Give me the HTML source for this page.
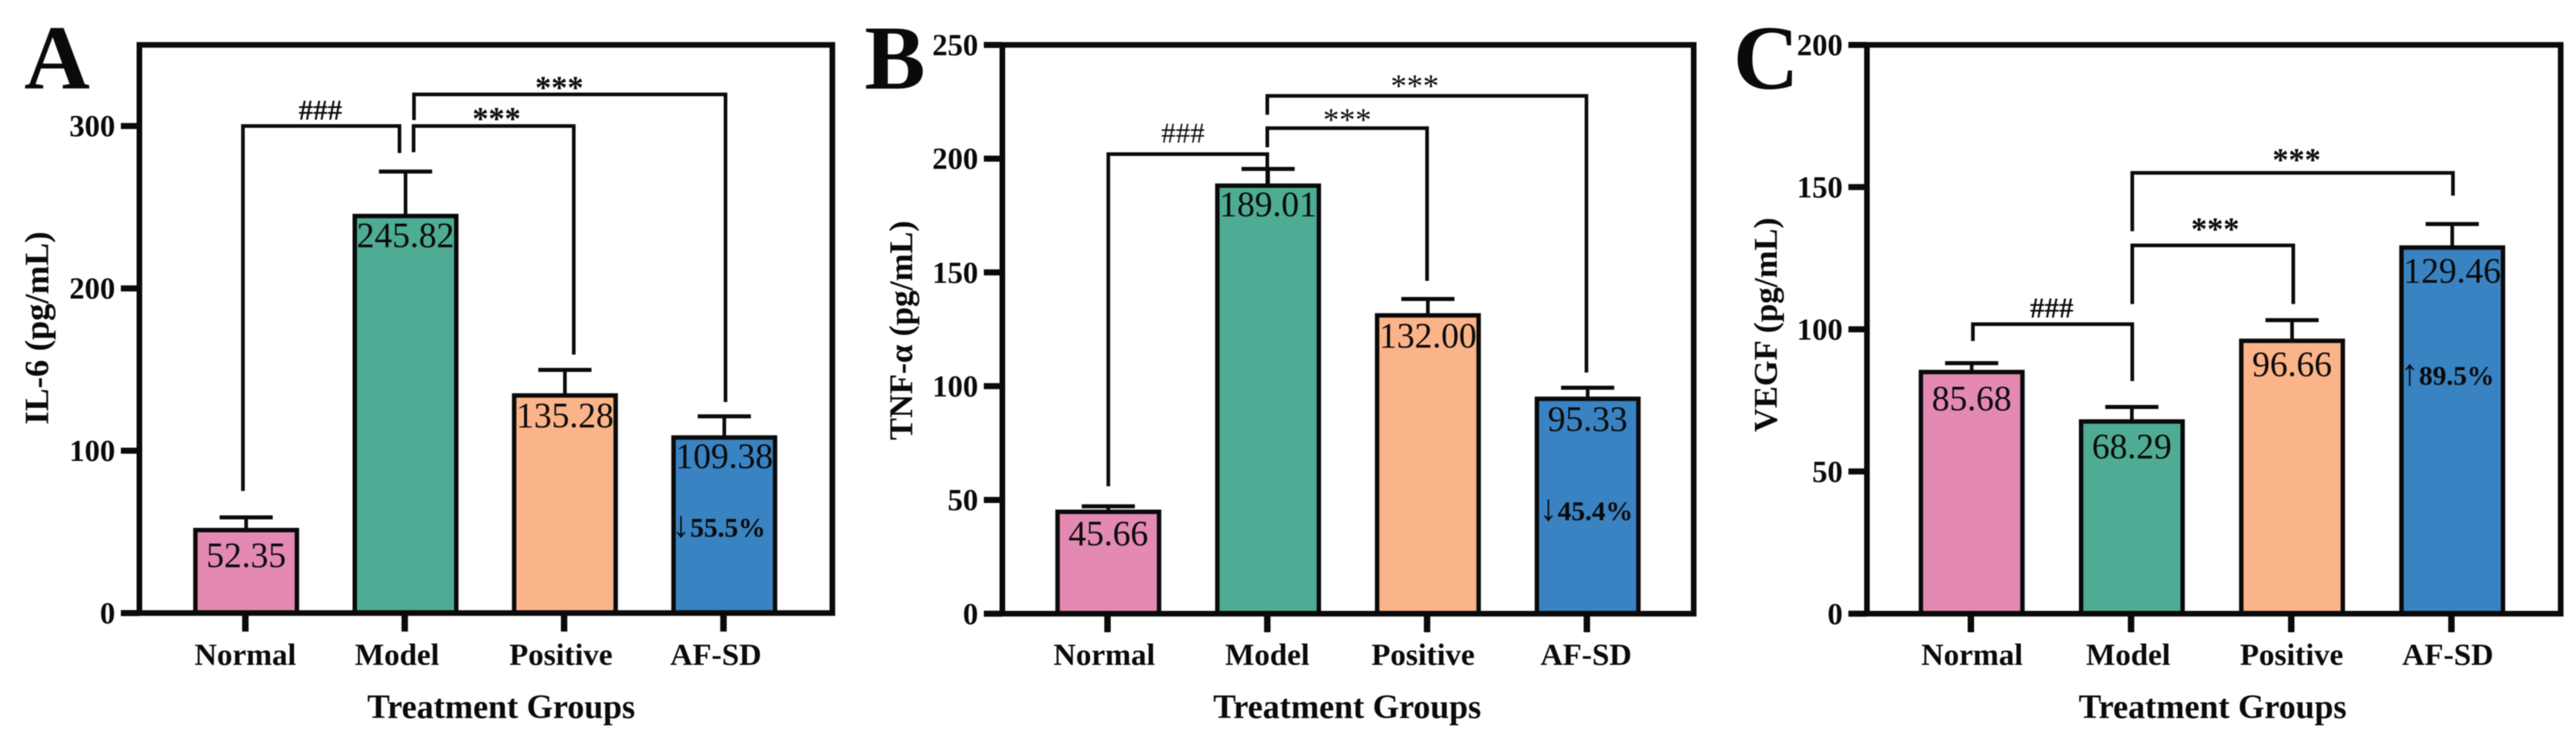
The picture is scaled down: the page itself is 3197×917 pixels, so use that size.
<!DOCTYPE html>
<html lang="en">
<head>
<meta charset="utf-8">
<title>IL-6, TNF-α and VEGF by treatment group</title>
<style>
html,body{margin:0;padding:0;background:#fff;width:3197px;height:917px;overflow:hidden}
svg{display:block;filter:blur(.6px)}
text{font-family:"Liberation Serif","DejaVu Serif",serif;fill:#0a0a0a}
</style>
</head>
<body>
<svg id="figure" xmlns="http://www.w3.org/2000/svg" width="3197" height="917" viewBox="0 0 3197 917"></svg>
<script>
const categories = ['Normal', 'Model', 'Positive', 'AF-SD'];
const barColors = ['#E48AB2', '#4FAC94', '#FBB48A', '#3983C2'];

const valuesA = [52.35, 245.82, 135.28, 109.38];
const errorTopsA = [58.9, 272, 149.8, 121.2];
const yTicksA = [0, 100, 200, 300];
const bracketFromA = [0, 1, 1];
const bracketToA = [1, 2, 3];
const bracketLevelA = [300, 300, 319.5];
const bracketFromEndA = [75.2, 283.9, 303.7];
const bracketToEndA = [283.4, 159.2, 130];
const bracketLabelA = ['###', '***', '***'];
const changeArrowA = '↓';
const changeLabelA = '55.5%';
const changeLevelA = 47;

const valuesB = [45.66, 189.01, 132.00, 95.33];
const errorTopsB = [47.2, 195.5, 138.3, 99.3];
const yTicksB = [0, 50, 100, 150, 200, 250];
const bracketFromB = [0, 1, 1];
const bracketToB = [1, 2, 3];
const bracketLevelB = [202, 213.4, 227.6];
const bracketFromEndB = [56, 205, 219.3];
const bracketToEndB = [189, 146.3, 106];
const bracketLabelB = ['###', '***', '***'];
const changeArrowB = '↓';
const changeLabelB = '45.4%';
const changeLevelB = 41;

const valuesC = [85.68, 68.29, 96.66, 129.46];
const errorTopsC = [88.1, 72.7, 103.2, 137];
const yTicksC = [0, 50, 100, 150, 200];
const bracketFromC = [0, 1, 1];
const bracketToC = [1, 2, 3];
const bracketLevelC = [101.8, 129.5, 155];
const bracketFromEndC = [95.9, 108.9, 134.5];
const bracketToEndC = [81.8, 108.9, 147];
const bracketLabelC = ['###', '***', '***'];
const changeArrowC = '↑';
const changeLabelC = '89.5%';
const changeLevelC = 80.5;

const svg = document.getElementById('figure');
const NS = 'http://www.w3.org/2000/svg';

function mk(tag, attrs, parent, content) {
  const n = document.createElementNS(NS, tag);
  for (const k in attrs) n.setAttribute(k, attrs[k]);
  if (content !== undefined) n.textContent = content;
  parent.appendChild(n);
  return n;
}

function drawPanel(p) {
  const yScale = v => p.y0 - (v / p.yMax) * (p.y0 - p.yTop);
  const xScale = i => p.x1 + i * p.step;

  const g = mk('g', {}, svg);
  
  

  const letter = mk('text', {x: p.letterX, y: 110, 'font-size': 113, 'font-weight': 'bold'}, g, p.letter);
  
  

  // bars: outline sits inside the value height
  p.values.forEach((v, i) => {
    const top = yScale(v) + 2.5;
    const bar = mk('rect', {
      x: xScale(i) - 63, y: top, width: 126, height: p.y0 - top,
      fill: barColors[i], stroke: '#0a0a0a', 'stroke-width': 5.5
    }, g);
    
    
  });

  // error bars
  p.errorTops.forEach((e, i) => {
    const cx = xScale(i);
    const stem = mk('line', {x1: cx, x2: cx, y1: yScale(p.values[i]), y2: yScale(e), stroke: '#0a0a0a', 'stroke-width': 4.5}, g);
    
    
    const cap = mk('line', {x1: cx - 33, x2: cx + 33, y1: yScale(e), y2: yScale(e), stroke: '#0a0a0a', 'stroke-width': 5}, g);
    
    
  });

  // printed values inside bars
  p.values.forEach((v, i) => {
    const t = mk('text', {x: xScale(i), y: yScale(v) + 46 + p.valueDy[i], 'font-size': 44, 'text-anchor': 'middle'}, g, v.toFixed(2));
    
    
  });

  const change = mk('text', {
    x: xScale(3) + p.changeDx, y: yScale(p.changeLevel),
    'font-size': 34, 'font-weight': 'bold', 'text-anchor': 'middle'
  }, g);
  
  
  mk('tspan', {'font-size': 46, 'font-weight': 'normal'}, change, p.changeArrow);
  mk('tspan', {}, change, p.changeLabel);

  // frame
  const frame = mk('rect', {
    x: p.frameL, y: p.yTop, width: p.frameR - p.frameL, height: p.y0 - p.yTop,
    fill: 'none', stroke: '#0a0a0a', 'stroke-width': 7
  }, g);
  
  

  // y axis ticks and labels
  p.yTicks.forEach(tv => {
    const ty = yScale(tv);
    const tick = mk('line', {x1: p.frameL - 23, x2: p.frameL, y1: ty, y2: ty, stroke: '#0a0a0a', 'stroke-width': 7.5}, g);
    
    
    const lab = mk('text', {x: p.frameL - 30, y: ty + 12.8, 'font-size': 38, 'font-weight': 'bold', 'text-anchor': 'end'}, g, String(tv));
    
    
  });

  // x axis ticks and labels
  categories.forEach((c, i) => {
    const tx = xScale(i) - 1;
    const tick = mk('line', {x1: tx, x2: tx, y1: p.y0, y2: p.y0 + 23, stroke: '#0a0a0a', 'stroke-width': 8}, g);
    
    
    const lab = mk('text', {x: xScale(i) + p.catDx[i], y: 825, 'font-size': 38.5, 'font-weight': 'bold', 'text-anchor': 'middle'}, g, c);
    
    
  });

  const xTitle = mk('text', {x: p.xTitleX, y: 891, 'font-size': 42, 'font-weight': 'bold', 'text-anchor': 'middle'}, g, 'Treatment Groups');
  
  

  const yTitle = mk('text', {
    x: 0, y: 0, 'font-size': p.yTitleSize, 'font-weight': 'bold', 'text-anchor': 'middle',
    transform: 'translate(' + p.yTitleX + ' ' + p.yTitleY + ') rotate(-90)'
  }, g, p.yTitle);
  
  

  // significance brackets
  p.bracketLevel.forEach((lv, i) => {
    const xa = xScale(p.bracketFrom[i]) + p.nudgeFrom[i];
    const xb = xScale(p.bracketTo[i]) + p.nudgeTo[i];
    const yl = yScale(lv);
    const d = 'M' + xa + ' ' + yScale(p.bracketFromEnd[i]) + 'V' + yl + 'H' + xb + 'V' + yScale(p.bracketToEnd[i]);
    const br = mk('path', {d: d, fill: 'none', stroke: '#0a0a0a', 'stroke-width': 4.5}, g);
    
    
    const isHash = p.bracketLabel[i] === '###';
    const lab = mk('text', {
      x: (xa + xb) / 2 + p.labelDx[i], y: yl + p.labelDy[i],
      'font-size': isHash ? 36 : 40, 'font-weight': p.sigWeight, 'text-anchor': 'middle'
    }, g, p.bracketLabel[i]);
    lab.setAttribute('fill', '#222');
    
    
  });
}

drawPanel({
  id: 'a', letter: 'A', letterX: 30,
  values: valuesA, errorTops: errorTopsA, yTicks: yTicksA, yMax: 350,
  y0: 760.7, yTop: 55.7, frameL: 173, frameR: 1033, x1: 305.5, step: 197.8,
  valueDy: [2, -5, -4, -6],
  bracketFrom: bracketFromA, bracketTo: bracketToA, bracketLevel: bracketLevelA,
  bracketFromEnd: bracketFromEndA, bracketToEnd: bracketToEndA, bracketLabel: bracketLabelA,
  nudgeFrom: [-4, 10, 10.5], nudgeTo: [-7.5, 11, 1.5],
  labelDx: [-1, 3.5, -13], labelDy: [-8, 4, 5], sigWeight: 'bold',
  changeArrow: changeArrowA, changeLabel: changeLabelA, changeLevel: changeLevelA, changeDx: -7,
  catDx: [-1, -10.5, -5, -10.5], xTitleX: 622, yTitle: 'IL-6 (pg/mL)', yTitleSize: 42.5, yTitleX: 60, yTitleY: 407
});

drawPanel({
  id: 'b', letter: 'B', letterX: 1073,
  values: valuesB, errorTops: errorTopsB, yTicks: yTicksB, yMax: 250,
  y0: 761.5, yTop: 55.7, frameL: 1244, frameR: 2102, x1: 1375.5, step: 198.3,
  valueDy: [-2, -6, -4, -4],
  bracketFrom: bracketFromB, bracketTo: bracketToB, bracketLevel: bracketLevelB,
  bracketFromEnd: bracketFromEndB, bracketToEnd: bracketToEndB, bracketLabel: bracketLabelB,
  nudgeFrom: [0, -1, -1], nudgeTo: [-1, -1, -1.5],
  labelDx: [-6, 0, -15], labelDy: [-14, 3, 1], sigWeight: 'normal',
  changeArrow: changeArrowB, changeLabel: changeLabelB, changeLevel: changeLevelB, changeDx: -2,
  catDx: [-5, -1, -6, -2], xTitleX: 1672, yTitle: 'TNF-α (pg/mL)', yTitleSize: 41, yTitleX: 1132, yTitleY: 410
});

drawPanel({
  id: 'c', letter: 'C', letterX: 2151,
  values: valuesC, errorTops: errorTopsC, yTicks: yTicksC, yMax: 200,
  y0: 761.5, yTop: 55.7, frameL: 2317, frameR: 3178, x1: 2447, step: 198.8,
  valueDy: [4, 2, 0, 0],
  bracketFrom: bracketFromC, bracketTo: bracketToC, bracketLevel: bracketLevelC,
  bracketFromEnd: bracketFromEndC, bracketToEnd: bracketToEndC, bracketLabel: bracketLabelC,
  nudgeFrom: [1.5, 0.5, 0.5], nudgeTo: [0.5, 1.5, 0.9],
  labelDx: [-1, 3, 5], labelDy: [-8, -7, -3], sigWeight: 'bold',
  changeArrow: changeArrowC, changeLabel: changeLabelC, changeLevel: changeLevelC, changeDx: -6,
  catDx: [0.5, -4.5, -0.5, -5.5], xTitleX: 2746, yTitle: 'VEGF (pg/mL)', yTitleSize: 41, yTitleX: 2205, yTitleY: 403
});
</script>
</body>
</html>
